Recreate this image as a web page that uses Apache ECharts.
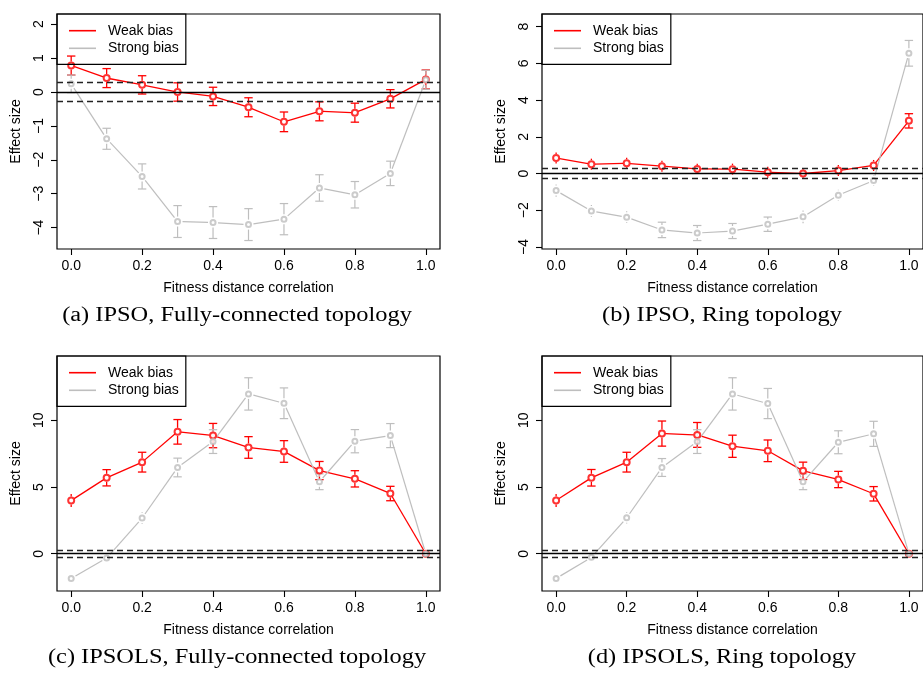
<!DOCTYPE html>
<html>
<head>
<meta charset="utf-8">
<script src="https://cdn.jsdelivr.net/npm/echarts@6/dist/echarts.min.js"></script>
<style>
  html, body { margin: 0; padding: 0; background: #fff; }
  #chart { width: 923px; height: 673px; }
</style>
</head>
<body>
<div id="chart"></div>
<script>
// Fitness distance correlation levels (x axis)
const fdc = [0.0, 0.1, 0.2, 0.3, 0.4, 0.5, 0.6, 0.7, 0.8, 0.9, 1.0];
const xRange = [-0.04, 1.04];
const xTicks = [0.0, 0.2, 0.4, 0.6, 0.8, 1.0];

// (a) IPSO, fully-connected topology
const ipsoFullWeak      = [0.78, 0.41, 0.21, 0.00, -0.13, -0.45, -0.88, -0.57, -0.61, -0.20, 0.37];
const ipsoFullWeakErr   = [0.28, 0.28, 0.27, 0.27, 0.27, 0.28, 0.29, 0.28, 0.28, 0.27, 0.28];
const ipsoFullStrong    = [0.24, -1.38, -2.49, -3.82, -3.85, -3.91, -3.75, -2.83, -3.03, -2.40, 0.36];
const ipsoFullStrongErr = [0.26, 0.31, 0.37, 0.47, 0.47, 0.47, 0.46, 0.39, 0.39, 0.36, 0.28];
const ipsoFullRange     = [-4.63, 2.30];
const ipsoFullTicks     = [-4, -3, -2, -1, 0, 1, 2];

// (b) IPSO, ring topology
const ipsoRingWeak      = [0.85, 0.51, 0.56, 0.40, 0.25, 0.24, 0.07, 0.00, 0.16, 0.44, 2.87];
const ipsoRingWeakErr   = [0.30, 0.30, 0.30, 0.30, 0.28, 0.30, 0.30, 0.28, 0.30, 0.30, 0.39];
const ipsoRingStrong    = [-0.93, -2.04, -2.38, -3.07, -3.24, -3.13, -2.76, -2.36, -1.18, -0.38, 6.55];
const ipsoRingStrongErr = [0.34, 0.32, 0.32, 0.42, 0.41, 0.41, 0.39, 0.35, 0.30, 0.30, 0.70];
const ipsoRingRange     = [-4.11, 8.69];
const ipsoRingTicks     = [-4, -2, 0, 2, 4, 6, 8];

// (c) IPSOLS, fully-connected topology
const ipsolsFullWeak      = [3.99, 5.69, 6.86, 9.13, 8.85, 7.96, 7.66, 6.23, 5.61, 4.51, 0.00];
const ipsolsFullWeakErr   = [0.49, 0.61, 0.74, 0.92, 0.91, 0.81, 0.81, 0.68, 0.61, 0.54, 0.05];
const ipsolsFullStrong    = [-1.85, -0.32, 2.67, 6.46, 8.40, 11.97, 11.27, 5.39, 8.43, 8.85, 0.00];
const ipsolsFullStrongErr = [0.38, 0.30, 0.43, 0.70, 0.89, 1.21, 1.15, 0.59, 0.87, 0.90, 0.05];

// (d) IPSOLS, ring topology
const ipsolsRingWeak      = [3.99, 5.69, 6.86, 9.00, 8.90, 8.05, 7.71, 6.21, 5.56, 4.49, 0.00];
const ipsolsRingWeakErr   = [0.49, 0.62, 0.74, 0.94, 0.93, 0.83, 0.81, 0.65, 0.61, 0.54, 0.05];
const ipsolsRingStrong    = [-1.85, -0.27, 2.69, 6.46, 8.40, 11.97, 11.25, 5.39, 8.35, 8.98, 0.00];
const ipsolsRingStrongErr = [0.38, 0.30, 0.43, 0.67, 0.89, 1.21, 1.13, 0.59, 0.86, 0.94, 0.05];

const ipsolsRange = [-2.79, 14.81];
const ipsolsTicks = [0, 5, 10];

// Reference levels: no effect and small-effect threshold
const noEffect = 0;
const smallEffect = 0.28;

const seriesNames = ['Weak bias', 'Strong bias'];
const captions = [
  '(a) IPSO, Fully-connected topology',
  '(b) IPSO, Ring topology',
  '(c) IPSOLS, Fully-connected topology',
  '(d) IPSOLS, Ring topology'
];

const RED = '#ff0000';
const GRAY = '#bebebe';
const SANS = '"Liberation Sans", Arial, sans-serif';

const panels = [
  { weak: ipsoFullWeak, weakErr: ipsoFullWeakErr, strong: ipsoFullStrong, strongErr: ipsoFullStrongErr, range: ipsoFullRange, ticks: ipsoFullTicks },
  { weak: ipsoRingWeak, weakErr: ipsoRingWeakErr, strong: ipsoRingStrong, strongErr: ipsoRingStrongErr, range: ipsoRingRange, ticks: ipsoRingTicks },
  { weak: ipsolsFullWeak, weakErr: ipsolsFullWeakErr, strong: ipsolsFullStrong, strongErr: ipsolsFullStrongErr, range: ipsolsRange, ticks: ipsolsTicks },
  { weak: ipsolsRingWeak, weakErr: ipsolsRingWeakErr, strong: ipsolsRingStrong, strongErr: ipsolsRingStrongErr, range: ipsolsRange, ticks: ipsolsTicks }
];

// Plot-box placement of the four panels
const boxes = [
  { left: 57,  top: 14,  width: 383, height: 235 },
  { left: 542, top: 14,  width: 383, height: 235 },
  { left: 57,  top: 356, width: 383, height: 235 },
  { left: 542, top: 356, width: 383, height: 235 }
];
const captionPos = [[237, 316], [722, 316], [237, 658], [722, 658]];

const fmtNum = v => (v < 0 ? '\u2212' + Math.abs(v) : String(v));

// Error bar split around the point (leaving a gap), with caps when long enough
function errorBar(lineWidth, gap, capHalf) {
  return function (params, api) {
    const x = api.value(0), y = api.value(1), e = api.value(2);
    const mid = api.coord([x, y]);
    const top = api.coord([x, y + e]);
    const bot = api.coord([x, y - e]);
    const color = api.visual('color');
    const style = { stroke: color, lineWidth: lineWidth };
    const children = [];
    if (mid[1] - gap > top[1]) {
      children.push({ type: 'line', shape: { x1: top[0], y1: top[1], x2: mid[0], y2: mid[1] - gap }, style: style });
      children.push({ type: 'line', shape: { x1: bot[0], y1: bot[1], x2: mid[0], y2: mid[1] + gap }, style: style });
    }
    if ((bot[1] - top[1]) / 2 >= 7) {
      children.push({ type: 'line', shape: { x1: top[0] - capHalf, y1: top[1], x2: top[0] + capHalf, y2: top[1] }, style: style });
      children.push({ type: 'line', shape: { x1: bot[0] - capHalf, y1: bot[1], x2: bot[0] + capHalf, y2: bot[1] }, style: style });
    }
    return { type: 'group', children: children };
  };
}

// Connecting segment between consecutive points, stopping short of each point
function gappedSegment(lineWidth, gap) {
  return function (params, api) {
    const p0 = api.coord([api.value(0), api.value(1)]);
    const p1 = api.coord([api.value(2), api.value(3)]);
    const dx = p1[0] - p0[0], dy = p1[1] - p0[1];
    const len = Math.sqrt(dx * dx + dy * dy);
    if (len <= 2 * gap) return null;
    const ux = dx / len, uy = dy / len;
    return {
      type: 'line',
      shape: { x1: p0[0] + ux * gap, y1: p0[1] + uy * gap, x2: p1[0] - ux * gap, y2: p1[1] - uy * gap },
      style: { stroke: api.visual('color'), lineWidth: lineWidth }
    };
  };
}

const grid = [], xAxis = [], yAxis = [], series = [], legend = [], graphic = [];

panels.forEach((p, i) => {
  const b = boxes[i];
  grid.push({
    left: b.left, top: b.top, width: b.width, height: b.height,
    show: true, borderColor: '#000', borderWidth: 1.2, backgroundColor: 'transparent',
    containLabel: false
  });
  xAxis.push({
    type: 'value', gridIndex: i, min: xRange[0], max: xRange[1], position: 'bottom',
    splitLine: { show: false },
    axisLine: { show: false, onZero: false },
    axisTick: { show: true, length: 6, customValues: xTicks, lineStyle: { color: '#000', width: 1.1 } },
    axisLabel: {
      customValues: xTicks, margin: 10, color: '#000', fontSize: 14, fontFamily: SANS,
      formatter: v => v.toFixed(1)
    },
    name: 'Fitness distance correlation', nameLocation: 'middle', nameGap: 32,
    nameTextStyle: { color: '#000', fontSize: 14, fontFamily: SANS }
  });
  yAxis.push({
    type: 'value', gridIndex: i, min: p.range[0], max: p.range[1], position: 'left',
    splitLine: { show: false },
    axisLine: { show: false, onZero: false },
    axisTick: { show: true, length: 6, customValues: p.ticks, lineStyle: { color: '#000', width: 1.1 } },
    axisLabel: {
      customValues: p.ticks, rotate: 90, margin: 11, color: '#000', fontSize: 14, fontFamily: SANS,
      formatter: fmtNum
    },
    name: 'Effect size', nameLocation: 'middle', nameGap: 34,
    nameTextStyle: { color: '#000', fontSize: 14, fontFamily: SANS }
  });

  // Reference lines at 0 and +/- small effect
  series.push({
    type: 'line', xAxisIndex: i, yAxisIndex: i, data: [], silent: true, z: 1,
    markLine: {
      silent: true, symbol: ['none', 'none'], label: { show: false },
      animation: false,
      data: [
        { yAxis: noEffect, lineStyle: { color: '#000', width: 1.3, type: 'solid' } },
        { yAxis: smallEffect, lineStyle: { color: '#222', width: 1.3, type: [6, 4] } },
        { yAxis: -smallEffect, lineStyle: { color: '#222', width: 1.3, type: [6, 4] } }
      ]
    }
  });

  const groups = [
    { name: seriesNames[0], vals: p.weak, errs: p.weakErr, color: RED, lw: 1.3, bw: 1.6, size: 6, segGap: 3.5, barGap: 4, cap: 4.2 },
    { name: seriesNames[1], vals: p.strong, errs: p.strongErr, color: GRAY, lw: 1.2, bw: 1.1, size: 5, segGap: 5, barGap: 5, cap: 4.2 }
  ];
  groups.forEach(g => {
    // legend entry (line icon)
    series.push({
      type: 'line', name: g.name, xAxisIndex: i, yAxisIndex: i, z: 2,
      symbol: 'none', color: g.color, lineStyle: { color: g.color, width: g.lw },
      data: [], silent: true, animation: false
    });
    series.push({
      type: 'custom', name: g.name + ' CI', xAxisIndex: i, yAxisIndex: i, z: 2,
      itemStyle: { color: g.color },
      renderItem: errorBar(g.lw, g.barGap, g.cap),
      encode: { x: 0, y: 1 },
      data: fdc.map((x, k) => [x, g.vals[k], g.errs[k]]),
      silent: true, animation: false
    });
    series.push({
      type: 'custom', name: g.name + ' path', xAxisIndex: i, yAxisIndex: i, z: 2,
      itemStyle: { color: g.color },
      renderItem: gappedSegment(g.lw, g.segGap),
      encode: { x: [0, 2], y: [1, 3] },
      data: fdc.slice(0, -1).map((x, k) => [x, g.vals[k], fdc[k + 1], g.vals[k + 1]]),
      silent: true, animation: false
    });
    series.push({
      type: 'scatter', name: g.name + ' mean', xAxisIndex: i, yAxisIndex: i, z: 2,
      symbol: 'emptyCircle', symbolSize: g.size,
      itemStyle: { color: g.color, borderColor: g.color, borderWidth: g.bw },
      data: fdc.map((x, k) => [x, g.vals[k]]),
      silent: true, animation: false
    });
  });

  legend.push({
    data: seriesNames, orient: 'vertical', left: b.left, top: b.top,
    icon: 'rect', itemWidth: 27, itemHeight: 1.6, itemGap: 1.6,
    padding: [8.7, 7, 8, 12],
    borderColor: '#000', borderWidth: 1.2, borderRadius: 0,
    backgroundColor: 'transparent', selectedMode: false,
    textStyle: { color: '#000', fontSize: 14, fontFamily: SANS, lineHeight: 16, padding: [0, 0, 0, 7] }
  });

  graphic.push({
    type: 'text', x: captionPos[i][0], y: captionPos[i][1], scaleX: 1.22, silent: true,
    style: {
      text: captions[i], fill: '#000',
      font: '20px "Liberation Serif", "DejaVu Serif", serif',
      align: 'center', verticalAlign: 'middle'
    }
  });
});

const chart = echarts.init(document.getElementById('chart'), null, { renderer: 'canvas' });
chart.setOption({
  animation: false,
  backgroundColor: '#fff',
  grid, xAxis, yAxis, series, legend, graphic
});
</script>
</body>
</html>
